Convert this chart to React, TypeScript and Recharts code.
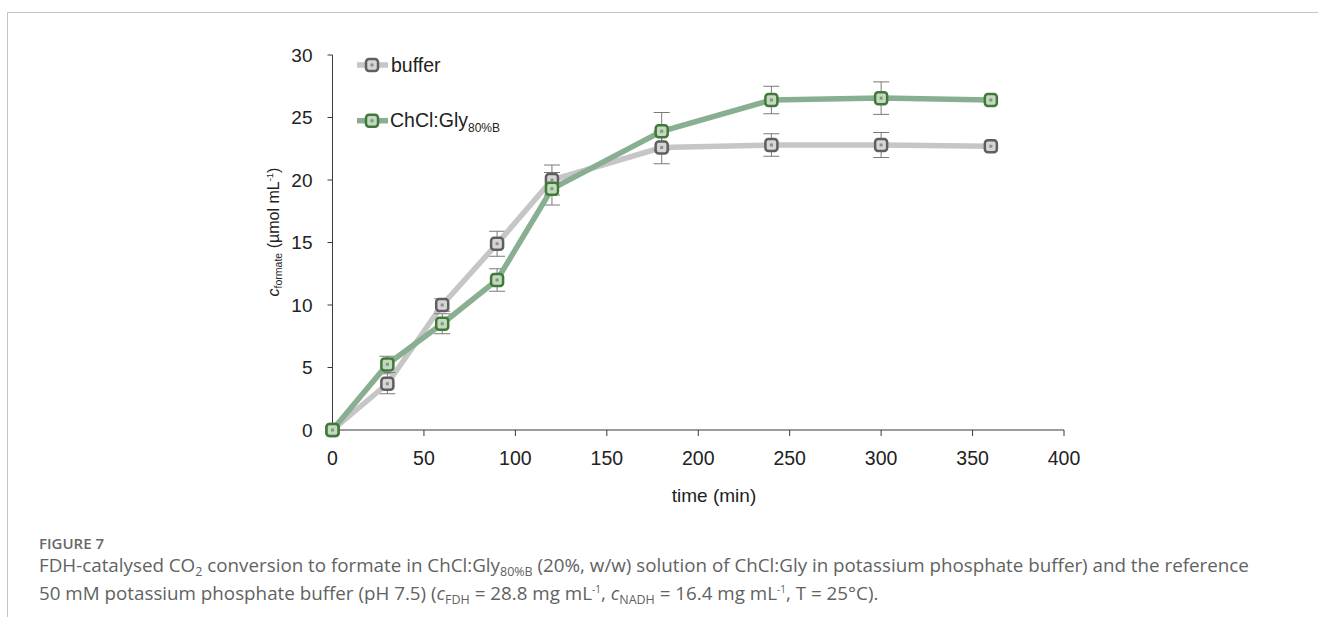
import React from "react";
import {
    LineChart,
    Line,
    XAxis,
    YAxis,
    ErrorBar,
    Legend,
} from "recharts";

// time points (min)
const times = [0, 30, 60, 90, 120, 180, 240, 300, 360];

// c_formate (µmol mL-1)
const bufferValues = [0, 3.7, 10.0, 14.9, 20.0, 22.6, 22.8, 22.8, 22.7];
const bufferErrors = [0, 0.8, 0.5, 1.0, 1.2, 1.3, 0.9, 1.0, 0];
const chclValues = [0, 5.25, 8.5, 12.0, 19.3, 23.9, 26.4, 26.55, 26.4];
const chclErrors = [0, 0.65, 0.8, 0.9, 1.3, 1.5, 1.1, 1.3, 0];

const xTicks = [0, 50, 100, 150, 200, 250, 300, 350, 400];
const yTicks = [0, 5, 10, 15, 20, 25, 30];

const CHART_FONT = "'Liberation Sans', Arial, sans-serif";
const CAPTION_FONT = "'Open Sans', 'Noto Sans', sans-serif";

const SERIES = {
    buffer: { line: "#c6c6c6", stroke: "#5f5f5f", fill: "#d6d6d6" },
    chcl: { line: "#88af91", stroke: "#3f7a38", fill: "#c6d8c2" },
};

const data = times.map((t, i) => ({
    time: t,
    buffer: bufferValues[i],
    bufferErr: bufferErrors[i],
    chcl: chclValues[i],
    chclErr: chclErrors[i],
}));

// rounded square marker with a small centre mark
const squareDot = (colors: { stroke: string; fill: string }) => (props: any) => {
    const { cx, cy, index } = props;
    if (cx == null || cy == null) return <g key={`d-${index}`} />;
    return (
        <g key={`d-${index}`}>
            <rect x={cx - 6} y={cy - 6} width={12} height={12} rx={3}
                fill={colors.fill} stroke={colors.stroke} strokeWidth={2.5} />
            <rect x={cx - 1.5} y={cy - 1.5} width={3} height={3} fill={colors.stroke} opacity={0.6} />
        </g>
    );
};

const LegendMarker = ({ colors, y }: { colors: any; y: number }) => (
    <g>
        <line x1={2} x2={33} y1={y} y2={y} stroke={colors.line} strokeWidth={5.5} />
        <rect x={11} y={y - 6} width={12} height={12} rx={3}
            fill={colors.fill} stroke={colors.stroke} strokeWidth={2.5} />
        <rect x={15.5} y={y - 1.5} width={3} height={3} fill={colors.stroke} opacity={0.6} />
    </g>
);

const renderLegend = () => (
    <svg width={200} height={90} style={{ overflow: "visible" }}>
        <LegendMarker colors={SERIES.buffer} y={15} />
        <text x={36} y={22} fontSize={19.5} fill="#222" fontFamily={CHART_FONT}>buffer</text>
        <LegendMarker colors={SERIES.chcl} y={70.7} />
        <text x={35} y={77.3} fontSize={19.5} fill="#222" fontFamily={CHART_FONT}>
            ChCl:Gly<tspan fontSize={12} dy={4.5}>80%B</tspan>
        </text>
    </svg>
);

const YLabel = () => (
    <text
        x={279}
        y={232}
        transform="rotate(-90, 279, 232)"
        textAnchor="middle"
        fontSize={16}
        fill="#222"
        fontFamily={CHART_FONT}
    >
        <tspan fontStyle="italic">c</tspan>
        <tspan fontSize={10.5} dy={3}>formate</tspan>
        <tspan dy={-3}> (µmol mL</tspan>
        <tspan fontSize={9.5} dy={-6}>-1</tspan>
        <tspan dy={6}>)</tspan>
    </text>
);

const XLabel = () => (
    <text x={714} y={501.5} textAnchor="middle" fontSize={19} fill="#222" fontFamily={CHART_FONT}>
        time (min)
    </text>
);

// sub/superscripts that do not disturb the line box
const Sub = ({ children }: { children: React.ReactNode }) => (
    <span style={{ fontSize: 12.5, position: "relative", top: 4, lineHeight: 0 }}>{children}</span>
);
const Sup = ({ children }: { children: React.ReactNode }) => (
    <span style={{ fontSize: 10, position: "relative", top: -7, lineHeight: 0 }}>{children}</span>
);

const captionLine: React.CSSProperties = {
    position: "absolute",
    left: 39,
    fontSize: 18.8,
    lineHeight: "28px",
    height: 28,
    whiteSpace: "nowrap",
};

export default function App() {
    return (
        <div style={{ position: "absolute", left: 0, top: 0, width: 1318, height: 617, background: "#fff", overflow: "hidden" }}>
            {/* panel frame */}
            <div style={{ position: "absolute", left: 7, top: 12, right: 0, bottom: 0, borderTop: "1px solid #c4c4c4", borderLeft: "1px solid #c4c4c4" }} />

            <div style={{ position: "absolute", left: 0, top: 0 }}>
                <LineChart
                    width={1318}
                    height={617}
                    data={data}
                    margin={{ top: 55, right: 254, bottom: 127, left: 272.5 }}
                >
                    <XAxis
                        dataKey="time"
                        type="number"
                        domain={[0, 400]}
                        ticks={xTicks}
                        height={60}
                        stroke="#3a3a3a"
                        tickSize={6}
                        tickMargin={15}
                        tick={{ fill: "#222", fontSize: 19.5, fontFamily: CHART_FONT }}
                        label={{ content: () => <XLabel /> }}
                    />
                    <YAxis
                        type="number"
                        domain={[0, 30]}
                        ticks={yTicks}
                        width={60}
                        stroke="#3a3a3a"
                        tickSize={5}
                        tickMargin={15}
                        tick={{ fill: "#222", fontSize: 19, fontFamily: CHART_FONT }}
                        label={{ content: () => <YLabel /> }}
                    />
                    <Line
                        dataKey="buffer"
                        stroke={SERIES.buffer.line}
                        strokeWidth={5.5}
                        dot={squareDot(SERIES.buffer)}
                        activeDot={false}
                        isAnimationActive={false}
                    >
                        <ErrorBar dataKey="bufferErr" width={8} strokeWidth={1} stroke="#7a7a7a" direction="y" />
                    </Line>
                    <Line
                        dataKey="chcl"
                        stroke={SERIES.chcl.line}
                        strokeWidth={5.5}
                        dot={squareDot(SERIES.chcl)}
                        activeDot={false}
                        isAnimationActive={false}
                    >
                        <ErrorBar dataKey="chclErr" width={8} strokeWidth={1} stroke="#7a7a7a" direction="y" />
                    </Line>
                    <Legend
                        layout="horizontal"
                        verticalAlign="middle"
                        align="center"
                        content={renderLegend}
                        wrapperStyle={{ position: "absolute", left: 355, top: 50, width: 200, height: 90 }}
                    />
                </LineChart>
            </div>

            {/* figure caption */}
            <div style={{ fontFamily: CAPTION_FONT, color: "#626262" }}>
                <div style={{ position: "absolute", left: 39, top: 533, fontSize: 15, fontWeight: 600, lineHeight: "20px", color: "#686868", whiteSpace: "nowrap" }}>
                    FIGURE 7
                </div>
                <div style={{ ...captionLine, top: 551 }}>
                    FDH-catalysed CO<Sub>2</Sub> conversion to formate in ChCl:Gly<Sub>80%B</Sub> (20%, w/w) solution of ChCl:Gly in potassium phosphate buffer) and the reference
                </div>
                <div style={{ ...captionLine, top: 578.5 }}>
                    50 mM potassium phosphate buffer (pH 7.5) (<i>c</i><Sub>FDH</Sub> = 28.8 mg mL<Sup>-1</Sup>, <i>c</i><Sub>NADH</Sub> = 16.4 mg mL<Sup>-1</Sup>, T = 25°C).
                </div>
            </div>
        </div>
    );
}
